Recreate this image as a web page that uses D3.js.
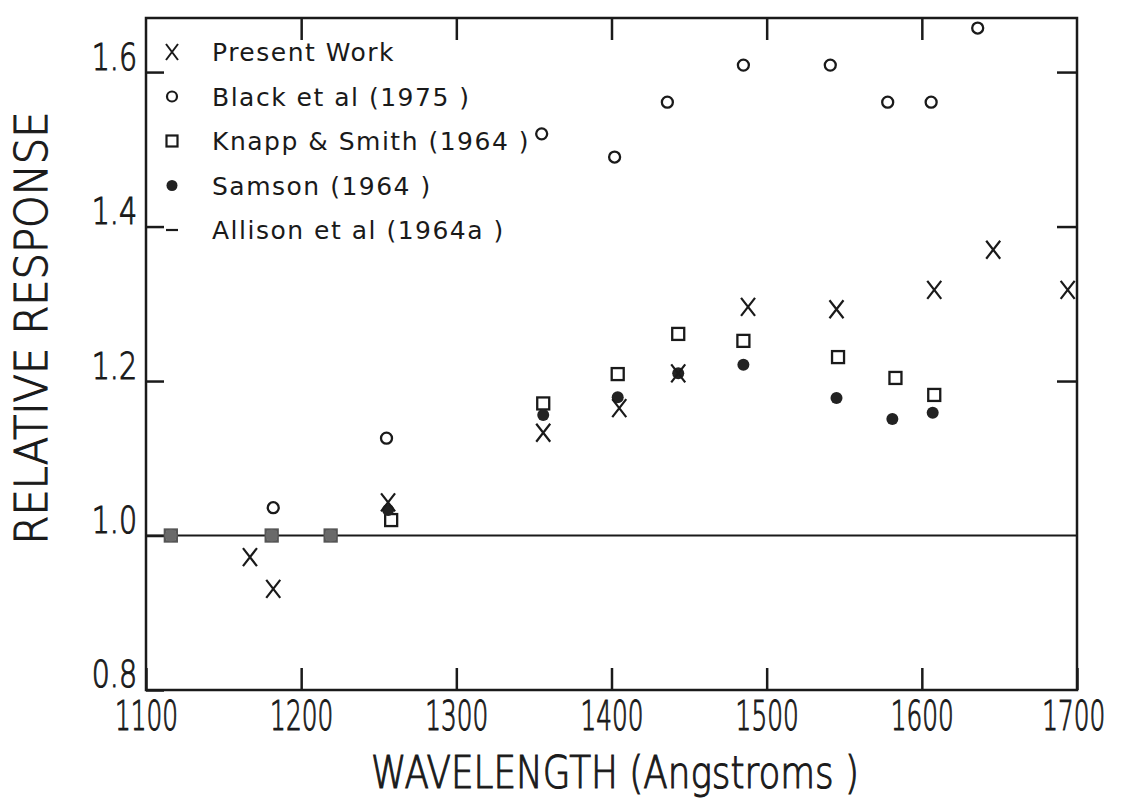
<!DOCTYPE html>
<html>
<head>
<meta charset="utf-8">
<script src="https://cdn.jsdelivr.net/npm/d3@7"></script>
<style>
  body { margin: 0; background: #fff; }
  svg { display: block; }
</style>
</head>
<body>
<div id="chart"></div>
<script>
// Relative response vs wavelength
const xTicks = [1100, 1200, 1300, 1400, 1500, 1600, 1700];
const yTicks = [0.8, 1.0, 1.2, 1.4, 1.6];

const presentWave = [1167, 1182, 1256, 1356, 1405, 1443, 1488, 1545, 1608, 1646, 1694];
const presentVal  = [0.972, 0.931, 1.043, 1.133, 1.165, 1.210, 1.296, 1.293, 1.318, 1.370, 1.318];

const blackWave = [1182, 1255, 1355, 1402, 1436, 1485, 1541, 1578, 1606, 1636];
const blackVal  = [1.036, 1.126, 1.520, 1.490, 1.561, 1.609, 1.609, 1.561, 1.561, 1.657];

const knappWave = [1116, 1181, 1219, 1258, 1356, 1404, 1443, 1485, 1546, 1583, 1608];
const knappVal  = [1.0, 1.0, 1.0, 1.020, 1.171, 1.209, 1.261, 1.252, 1.231, 1.204, 1.182];

const samsonWave = [1116, 1181, 1219, 1256, 1356, 1404, 1443, 1485, 1545, 1581, 1607];
const samsonVal  = [1.0, 1.0, 1.0, 1.033, 1.156, 1.179, 1.210, 1.221, 1.178, 1.151, 1.159];

const allisonVal = 1.0;

const legendLabels = ["Present Work", "Black et al (1975 )", "Knapp & Smith (1964 )", "Samson (1964 )", "Allison et al (1964a )"];

const width = 1135, height = 799;
const margin = { top: 18, right: 58, bottom: 109, left: 146 };
const ink = "#1a1a1a";

const svg = d3.select("#chart").append("svg")
    .attr("width", width)
    .attr("height", height);

const x = d3.scaleLinear()
    .domain([1100, 1700])
    .range([margin.left, width - margin.right]);

const y = d3.scaleLinear()
    .domain([0.8, 1.67])
    .range([height - margin.bottom, margin.top]);

// thin plotter-like lettering, thickened a little with a stroke
const axisFont = "'DejaVu Sans', sans-serif";
const axisWeight = 200;

function plotterText(sel) {
    sel.attr("fill", ink)
        .attr("stroke", ink)
        .attr("stroke-width", 1.1)
        .attr("font-family", axisFont)
        .attr("font-weight", axisWeight);
}

// frame
svg.append("rect")
    .attr("x", x(1100)).attr("y", y(1.67))
    .attr("width", x(1700) - x(1100))
    .attr("height", y(0.8) - y(1.67))
    .attr("fill", "none")
    .attr("stroke", ink)
    .attr("stroke-width", 2.5);

// bottom axis with inward ticks
const gx = svg.append("g")
    .attr("transform", `translate(0,${y(0.8)})`)
    .call(d3.axisBottom(x).tickValues(xTicks).tickSize(-22).tickPadding(12).tickFormat(d3.format("d")));
gx.select(".domain").remove();
gx.selectAll("line").attr("stroke", ink).attr("stroke-width", 2.5);
gx.selectAll("text")
    .call(plotterText)
    .attr("font-size", 40)
    .attr("x", (d) => (d === 1700 ? -6 : 0))
    .attr("transform", "scale(0.62,1)");

// top ticks
const gt = svg.append("g")
    .attr("transform", `translate(0,${y(1.67)})`)
    .call(d3.axisTop(x).tickValues(xTicks.slice(1, -1)).tickSize(-22).tickFormat(""));
gt.select(".domain").remove();
gt.selectAll("line").attr("stroke", ink).attr("stroke-width", 2.5);

// left axis
const gy = svg.append("g")
    .attr("transform", `translate(${x(1100)},0)`)
    .call(d3.axisLeft(y).tickValues(yTicks).tickSize(-18).tickPadding(9).tickFormat(d3.format(".1f")));
gy.select(".domain").remove();
gy.selectAll("line").attr("stroke", ink).attr("stroke-width", 2.5);
gy.selectAll("text")
    .call(plotterText)
    .attr("font-size", 38)
    .attr("x", -12)
    .attr("dy", "-0.08em")
    .attr("transform", "scale(0.75,1)");

// right ticks
const gr = svg.append("g")
    .attr("transform", `translate(${x(1700)},0)`)
    .call(d3.axisRight(y).tickValues(yTicks.slice(2)).tickSize(-20).tickFormat(""));
gr.select(".domain").remove();
gr.selectAll("line").attr("stroke", ink).attr("stroke-width", 2.5);

// axis titles
svg.append("text")
    .call(plotterText)
    .attr("x", 615)
    .attr("y", 788)
    .attr("text-anchor", "middle")
    .attr("font-size", 44)
    .attr("textLength", 488)
    .attr("lengthAdjust", "spacingAndGlyphs")
    .text("WAVELENGTH (Angstroms )");

svg.append("text")
    .call(plotterText)
    .attr("transform", "translate(47,328) rotate(-90)")
    .attr("text-anchor", "middle")
    .attr("font-size", 44)
    .attr("textLength", 433)
    .attr("lengthAdjust", "spacingAndGlyphs")
    .text("RELATIVE RESPONSE");

// Allison et al: reference line at 1.0
svg.append("line")
    .attr("x1", x(1100)).attr("x2", x(1700))
    .attr("y1", y(allisonVal)).attr("y2", y(allisonVal))
    .attr("stroke", ink)
    .attr("stroke-width", 2.2);

const crossPath = "M-7,-9L7,9M7,-9L-7,9";

const zip = (a, b) => a.map((w, i) => ({ w: w, v: b[i] }));

// Knapp & Smith: open squares
svg.append("g").selectAll("rect")
    .data(zip(knappWave, knappVal))
    .join("rect")
    .attr("x", (d) => x(d.w) - 6)
    .attr("y", (d) => y(d.v) - 6)
    .attr("width", 12)
    .attr("height", 12)
    .attr("fill", (d) => (d.v === 1 ? "#8a8a8a" : "none"))
    .attr("stroke", (d) => (d.v === 1 ? "#555" : ink))
    .attr("stroke-width", 2.3);

// Samson: filled circles
svg.append("g").selectAll("circle")
    .data(zip(samsonWave, samsonVal))
    .join("circle")
    .attr("cx", (d) => x(d.w))
    .attr("cy", (d) => y(d.v))
    .attr("r", 6)
    .attr("fill", (d) => (d.v === 1 ? "#6a6a6a" : "#222"));

// Black et al: open circles
svg.append("g").selectAll("circle")
    .data(zip(blackWave, blackVal))
    .join("circle")
    .attr("cx", (d) => x(d.w))
    .attr("cy", (d) => y(d.v))
    .attr("r", 5.5)
    .attr("fill", "none")
    .attr("stroke", ink)
    .attr("stroke-width", 2.3);

// Present work: crosses
svg.append("g").selectAll("path")
    .data(zip(presentWave, presentVal))
    .join("path")
    .attr("transform", (d) => `translate(${x(d.w)},${y(d.v)})`)
    .attr("d", crossPath)
    .attr("fill", "none")
    .attr("stroke", ink)
    .attr("stroke-width", 2.2);

// legend
const legend = svg.append("g").attr("transform", "translate(172,52)");
const rowGap = 44.5;
legendLabels.forEach((label, i) => {
    const g = legend.append("g").attr("transform", `translate(0,${i * rowGap})`);
    if (i === 0) {
        g.append("path").attr("d", "M-6,-8L6,8M6,-8L-6,8")
            .attr("stroke", ink).attr("stroke-width", 2).attr("fill", "none");
    } else if (i === 1) {
        g.append("circle").attr("r", 5).attr("fill", "none")
            .attr("stroke", ink).attr("stroke-width", 2.2);
    } else if (i === 2) {
        g.append("rect").attr("x", -5.5).attr("y", -5.5).attr("width", 11).attr("height", 11)
            .attr("fill", "none").attr("stroke", ink).attr("stroke-width", 2.2);
    } else if (i === 3) {
        g.append("circle").attr("r", 5.5).attr("fill", "#222");
    } else {
        g.append("line").attr("x1", -6).attr("x2", 6)
            .attr("stroke", ink).attr("stroke-width", 2.2);
    }
    g.append("text")
        .attr("x", 40)
        .attr("y", 9)
        .attr("font-family", "'DejaVu Sans', sans-serif")
        .attr("font-size", 25)
        .attr("letter-spacing", 1.5)
        .attr("fill", ink)
        .text(label);
});
</script>
</body>
</html>
